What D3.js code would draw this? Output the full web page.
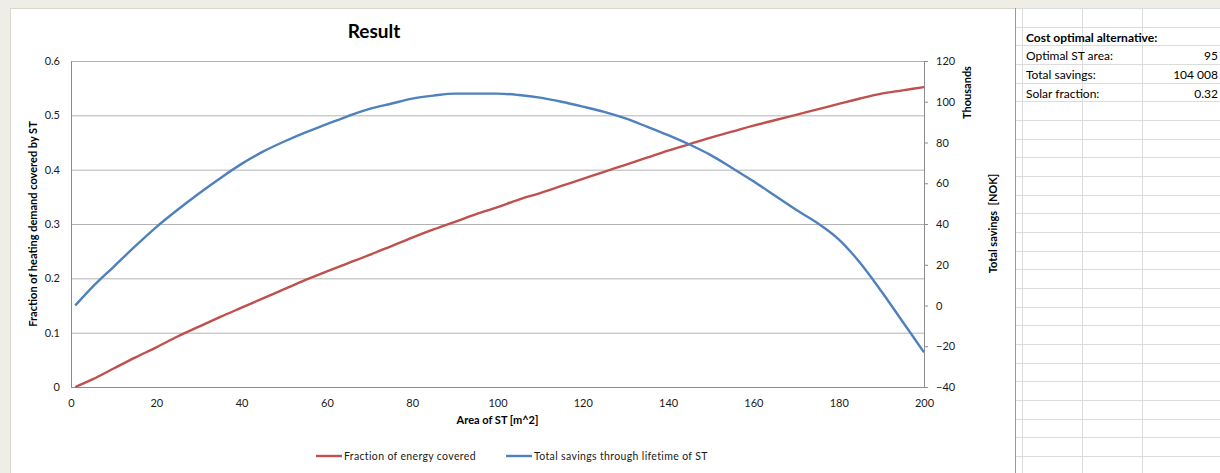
<!DOCTYPE html>
<html>
<head>
<meta charset="utf-8">
<script src="https://cdn.jsdelivr.net/npm/d3@7"></script>
<style>
  body { margin: 0; background: #ffffff; }
  svg { display: block; font-family: Lato, "Open Sans", sans-serif; }
</style>
</head>
<body>
<div id="chart"></div>
<script>
// area of ST [m^2]
var areas = [1, 5, 10, 15, 20, 25, 30, 35, 40, 45, 50, 55, 60, 65, 70, 75, 80, 85, 90, 95, 100,
  105, 110, 115, 120, 125, 130, 135, 140, 145, 150, 155, 160, 165, 170, 175, 180, 185, 190, 195, 200];
// fraction of energy covered (left axis)
var fraction = [0.000, 0.014, 0.034, 0.054, 0.073, 0.093, 0.111, 0.129, 0.146, 0.163, 0.180,
  0.197, 0.213, 0.228, 0.243, 0.259, 0.275, 0.290, 0.304, 0.318, 0.331,
  0.345, 0.357, 0.370, 0.383, 0.396, 0.409, 0.422, 0.435, 0.447, 0.459,
  0.470, 0.481, 0.491, 0.501, 0.511, 0.521, 0.531, 0.540, 0.546, 0.552];
// total savings through lifetime, thousands NOK (right axis)
var savings = [0, 9, 19, 29, 38.5, 47, 55, 62.5, 69.5, 75.5, 80.5,
  85, 89, 93, 96.5, 99, 101.5, 103, 104, 104, 104,
  103.3, 102, 100, 97.6, 95, 91.8, 87.8, 83.6, 79, 73.8,
  67.5, 61, 54, 47, 40.5, 32.5, 21, 7, -8, -23];

var xTicks = [0, 20, 40, 60, 80, 100, 120, 140, 160, 180, 200];
var leftTicks = [0, 0.1, 0.2, 0.3, 0.4, 0.5, 0.6];
var rightTicks = [-40, -20, 0, 20, 40, 60, 80, 100, 120];

var seriesNames = ["Fraction of energy covered", "Total savings through lifetime of ST"];
var seriesColors = ["#c0504d", "#4f81bd"];

var tableLabels = ["Optimal ST area:", "Total savings:", "Solar fraction:"];
var tableValues = ["95", "104 008", "0.32"];

var W = 1220, H = 473;
var svg = d3.select("#chart").append("svg").attr("width", W).attr("height", H);

// sheet background + frame
svg.append("rect").attr("width", W).attr("height", H).attr("fill", "#ffffff");
svg.append("rect").attr("x", 0).attr("y", 0).attr("width", W).attr("height", 8).attr("fill", "#eeede6");
svg.append("rect").attr("x", 0).attr("y", 0).attr("width", 10).attr("height", H).attr("fill", "#eeede6");
svg.append("line").attr("x1", 10.5).attr("x2", 10.5).attr("y1", 8).attr("y2", H).style("stroke", "#d9d8cf");
svg.append("line").attr("x1", 10).attr("x2", 1015).attr("y1", 8.5).attr("y2", 8.5).style("stroke", "#d9d8cf");

// spreadsheet grid on the right
var rowY = d3.range(0, 24).map(function (i) { return 26.5 + i * 18.68; });
var grid = svg.append("g");
rowY.forEach(function (y) {
  grid.append("line").attr("x1", 1016).attr("x2", W).attr("y1", Math.round(y) + 0.5).attr("y2", Math.round(y) + 0.5)
    .style("stroke", "#dadcdd");
});
[1022.5, 1082.5, 1142.5].forEach(function (x) {
  grid.append("line").attr("x1", x).attr("x2", x).attr("y1", 8).attr("y2", H).style("stroke", "#dadcdd");
});
grid.append("line").attr("x1", 1015.5).attr("x2", 1015.5).attr("y1", 8).attr("y2", H).style("stroke", "#9a9a9a");
grid.append("line").attr("x1", 1016).attr("x2", W).attr("y1", 8.5).attr("y2", 8.5).style("stroke", "#dadcdd");

grid.append("text").attr("x", 1026).attr("y", 41.5).style("font-size", "12px").style("font-weight", "bold")
  .attr("fill", "#000").text("Cost optimal alternative:");
tableLabels.forEach(function (t, i) {
  var base = 41.5 + (i + 1) * 18.68;
  grid.append("text").attr("x", 1026).attr("y", base).style("font-size", "12px").attr("fill", "#000").text(t);
  grid.append("text").attr("x", 1218).attr("y", base).style("font-size", "12px").attr("fill", "#000")
    .style("text-anchor", "end").text(tableValues[i]);
});

// chart
var margin = { left: 71, top: 61, right: 924, bottom: 387 };
var x = d3.scaleLinear().domain([0, 200]).range([margin.left, margin.right]);
var yL = d3.scaleLinear().domain([0, 0.6]).range([margin.bottom, margin.top]);
var yR = d3.scaleLinear().domain([-40, 120]).range([margin.bottom, margin.top]);

// gridlines
svg.append("g")
  .attr("class", "grid")
  .attr("transform", "translate(" + margin.left + ",0)")
  .call(d3.axisLeft(yL).tickValues(leftTicks).tickSize(-(margin.right - margin.left)).tickFormat(""))
  .call(function (g) { g.select(".domain").remove(); })
  .selectAll("line").style("stroke", "#b2b2b2");

function tickStyle(g) {
  g.select(".domain").style("stroke", "#8c8c8c");
  g.selectAll("line").style("stroke", "#8c8c8c");
  g.selectAll("text").style("font-size", "11px").attr("fill", "#1a1a1a").style("font-family", "Lato, sans-serif");
}

// left axis
svg.append("g")
  .attr("transform", "translate(" + margin.left + ",0)")
  .call(d3.axisLeft(yL).tickValues(leftTicks).tickSize(0).tickPadding(11).tickFormat(d3.format("")))
  .call(tickStyle);

// bottom axis
svg.append("g")
  .attr("transform", "translate(0," + margin.bottom + ")")
  .call(d3.axisBottom(x).tickValues(xTicks).tickSize(0).tickPadding(12))
  .call(tickStyle);

// right axis
svg.append("g")
  .attr("transform", "translate(" + margin.right + ",0)")
  .call(d3.axisRight(yR).tickValues(rightTicks).tickSize(4).tickPadding(8))
  .call(tickStyle);

// lines
var fracLine = d3.line()
  .x(function (d, i) { return x(areas[i]); })
  .y(function (d) { return yL(d); })
  .curve(d3.curveMonotoneX);
var saveLine = d3.line()
  .x(function (d, i) { return x(areas[i]); })
  .y(function (d) { return yR(d); })
  .curve(d3.curveMonotoneX);

svg.append("path").datum(fraction).attr("d", fracLine)
  .style("fill", "none").style("stroke", seriesColors[0]).style("stroke-width", 2.4);
svg.append("path").datum(savings).attr("d", saveLine)
  .style("fill", "none").style("stroke", seriesColors[1]).style("stroke-width", 2.4);

// titles
svg.append("text").attr("x", 374).attr("y", 38).style("text-anchor", "middle")
  .style("font-size", "19px").style("font-weight", "bold").text("Result");

svg.append("text").attr("transform", "translate(37," + ((margin.top + margin.bottom) / 2) + ") rotate(-90)")
  .style("text-anchor", "middle").style("font-size", "11px").style("font-weight", "bold")
  .text("Fraction of heating demand covered by ST");

svg.append("text").attr("x", (margin.left + margin.right) / 2).attr("y", 424).style("text-anchor", "middle")
  .style("font-size", "11px").style("font-weight", "bold").text("Area of ST [m^2]");

svg.append("text").attr("transform", "translate(971,92.5) rotate(-90)")
  .style("text-anchor", "middle").style("font-size", "11px").style("font-weight", "bold").text("Thousands");

svg.append("text").attr("transform", "translate(997,223.5) rotate(-90)")
  .style("text-anchor", "middle").style("font-size", "11px").style("font-weight", "bold")
  .style("white-space", "pre").text("Total savings  [NOK]");

// legend
var legendX = [316, 506];
seriesNames.forEach(function (name, i) {
  var lg = svg.append("g").attr("transform", "translate(" + legendX[i] + ",456)");
  lg.append("line").attr("x1", 0).attr("x2", 26).attr("y1", 0).attr("y2", 0)
    .style("stroke", seriesColors[i]).style("stroke-width", 2.4);
  lg.append("text").attr("x", 28).attr("y", 3.5).style("font-size", "10.5px").attr("fill", "#1a1a1a")
    .style("letter-spacing", "0.35px").text(name);
});
</script>
</body>
</html>
